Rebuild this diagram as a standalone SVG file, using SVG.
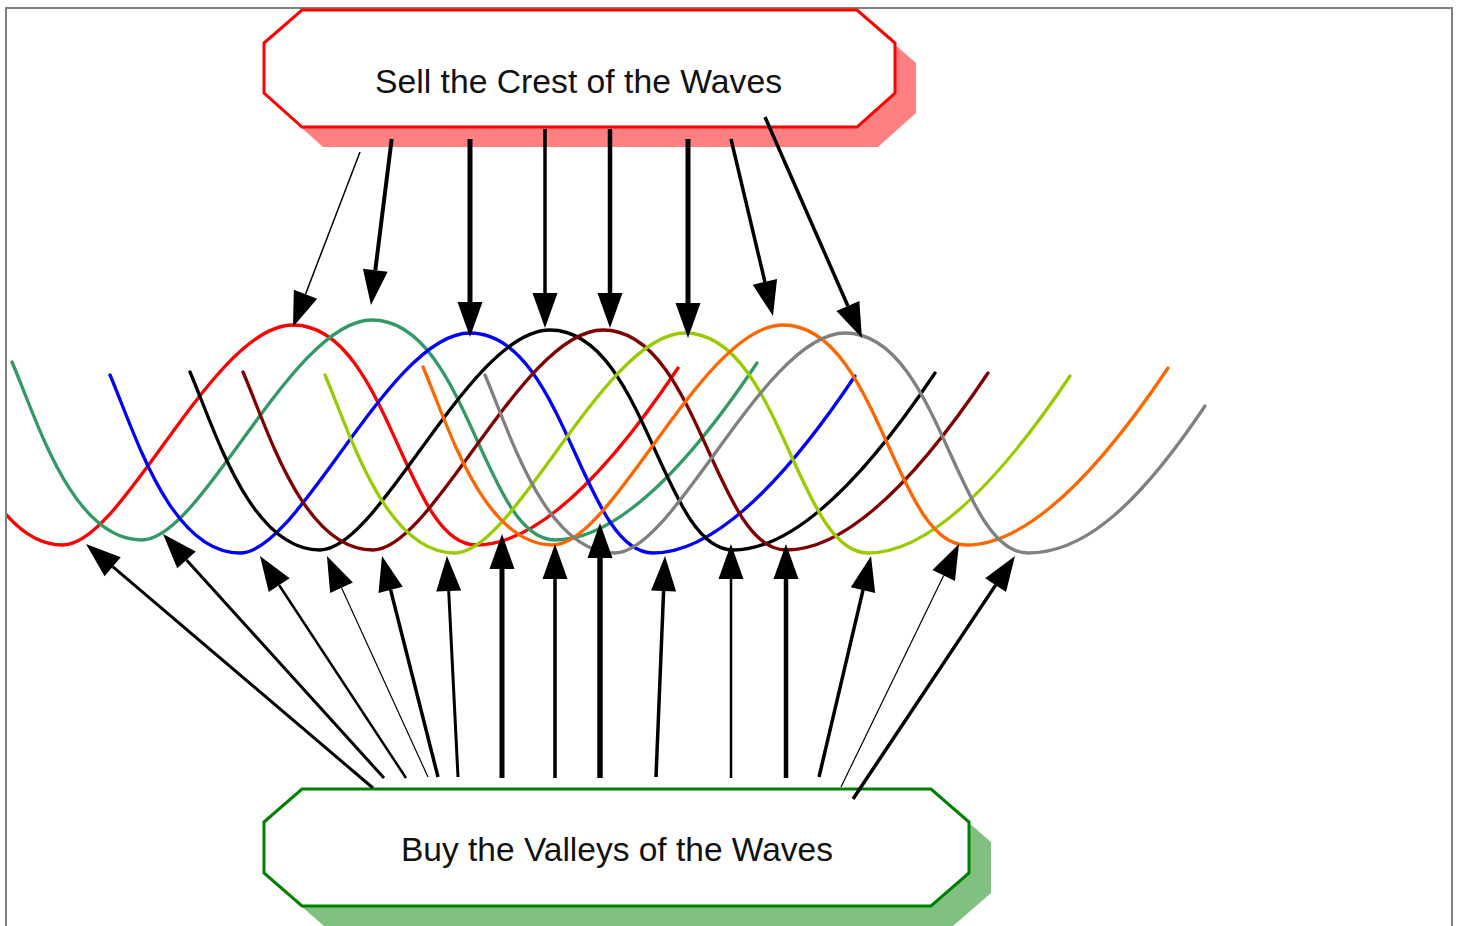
<svg xmlns="http://www.w3.org/2000/svg" width="1457" height="926" viewBox="0 0 1457 926">
<style>
.lbl{font-family:"Liberation Sans","DejaVu Sans",sans-serif;font-size:34px;fill:#111}
.wave{fill:none;stroke-width:3.3;stroke-linejoin:round;stroke-linecap:round}
.conn{stroke:#000;fill:none;marker-end:url(#ah)}
</style>
<defs>
<marker id="ah" markerUnits="userSpaceOnUse" markerWidth="36" markerHeight="26" refX="0" refY="12.5" orient="auto" overflow="visible">
<path d="M0,0 L35,12.5 L0,25 z" fill="#000"/>
</marker>
<path id="wv" d="M-360,42 C-335,100 -300,220 -230,220 C-170,220 -80,0 0,0 C95,0 112,220 183,220 C235,220 300,170 385,43"/>
<path id="wvg" d="M-360,42 C-335,100 -300,220 -230,220 C-170,220 -80,0 0,0 C95,0 112,220 183,220 C232,220 285,185 360,73"/>
<clipPath id="frame"><rect x="7" y="0" width="1444" height="926"/></clipPath>
</defs>
<rect x="6" y="8" width="1446" height="940" fill="#fff" stroke="#808080" stroke-width="2"/>

<g id="waves" clip-path="url(#frame)">
<use href="#wv" class="wave" stroke="#ff0000" transform="translate(293,325)"/>
<use href="#wv" class="wave" stroke="#339966" transform="translate(372,320)"/>
<use href="#wv" class="wave" stroke="#0000ff" transform="translate(470,333)"/>
<use href="#wv" class="wave" stroke="#000000" transform="translate(550,330)"/>
<use href="#wv" class="wave" stroke="#800000" transform="translate(603,330)"/>
<use href="#wv" class="wave" stroke="#99cc00" transform="translate(685,333)"/>
<use href="#wv" class="wave" stroke="#ff6600" transform="translate(783,325)"/>
<use href="#wvg" class="wave" stroke="#808080" transform="translate(845,333)"/>
</g>

<g id="sell">
<polygon points="323,30 878,30 916,63 916,113 878,147 323,147 285,113 285,63" fill="#ff8080"/>
<polygon points="302,10 857,10 895,43 895,93 857,127 302,127 264,93 264,43" fill="#fff" stroke="#ff0000" stroke-width="3"/>
<text class="lbl" x="375" y="92.5" textLength="407" lengthAdjust="spacingAndGlyphs">Sell the Crest of the Waves</text>
</g>

<g id="buy">
<polygon points="324,809 953,809 991,842 991,893 953,926 324,926 286,893 286,842" fill="#80c080"/>
<polygon points="302,789 931,789 969,822 969,873 931,906 302,906 264,873 264,822" fill="#fff" stroke="#008000" stroke-width="3"/>
<text class="lbl" x="401" y="861" textLength="432" lengthAdjust="spacingAndGlyphs">Buy the Valleys of the Waves</text>
</g>

<g id="connectors">
<line class="conn" x1="360" y1="152" x2="305.5" y2="294.3" stroke-width="1.5"/>
<line class="conn" x1="391.7" y1="139" x2="375.3" y2="270.3" stroke-width="4"/>
<line class="conn" x1="470" y1="139" x2="470" y2="302" stroke-width="5"/>
<line class="conn" x1="545" y1="129" x2="545" y2="293" stroke-width="3.5"/>
<line class="conn" x1="610" y1="129" x2="610" y2="293" stroke-width="4.5"/>
<line class="conn" x1="688" y1="139" x2="688" y2="303" stroke-width="5"/>
<line class="conn" x1="731" y1="139" x2="764.9" y2="281.9" stroke-width="3.5"/>
<line class="conn" x1="765" y1="117" x2="847.9" y2="306" stroke-width="3.5"/>

<line class="conn" x1="373" y1="788" x2="112.7" y2="566.7" stroke-width="3"/>
<line class="conn" x1="384" y1="778" x2="186.5" y2="559.9" stroke-width="3"/>
<line class="conn" x1="406" y1="778" x2="279.2" y2="585.2" stroke-width="2.5"/>
<line class="conn" x1="428" y1="777" x2="341.5" y2="587.8" stroke-width="1.2"/>
<line class="conn" x1="438" y1="777" x2="390.6" y2="589.9" stroke-width="3.5"/>
<line class="conn" x1="458" y1="777" x2="448.7" y2="591" stroke-width="3"/>
<line class="conn" x1="502" y1="778" x2="502" y2="569" stroke-width="5"/>
<line class="conn" x1="555" y1="778" x2="555" y2="579" stroke-width="3.5"/>
<line class="conn" x1="600" y1="778" x2="600" y2="558" stroke-width="5.5"/>
<line class="conn" x1="656" y1="777" x2="663.6" y2="591" stroke-width="3.5"/>
<line class="conn" x1="731" y1="778" x2="731" y2="579" stroke-width="2.5"/>
<line class="conn" x1="786" y1="778" x2="786" y2="579" stroke-width="4.5"/>
<line class="conn" x1="819" y1="777" x2="863" y2="590.1" stroke-width="3.5"/>
<line class="conn" x1="841" y1="787" x2="943.7" y2="575.5" stroke-width="1.2"/>
<line class="conn" x1="853" y1="799" x2="995.6" y2="585.1" stroke-width="3.5"/>
</g>
</svg>
